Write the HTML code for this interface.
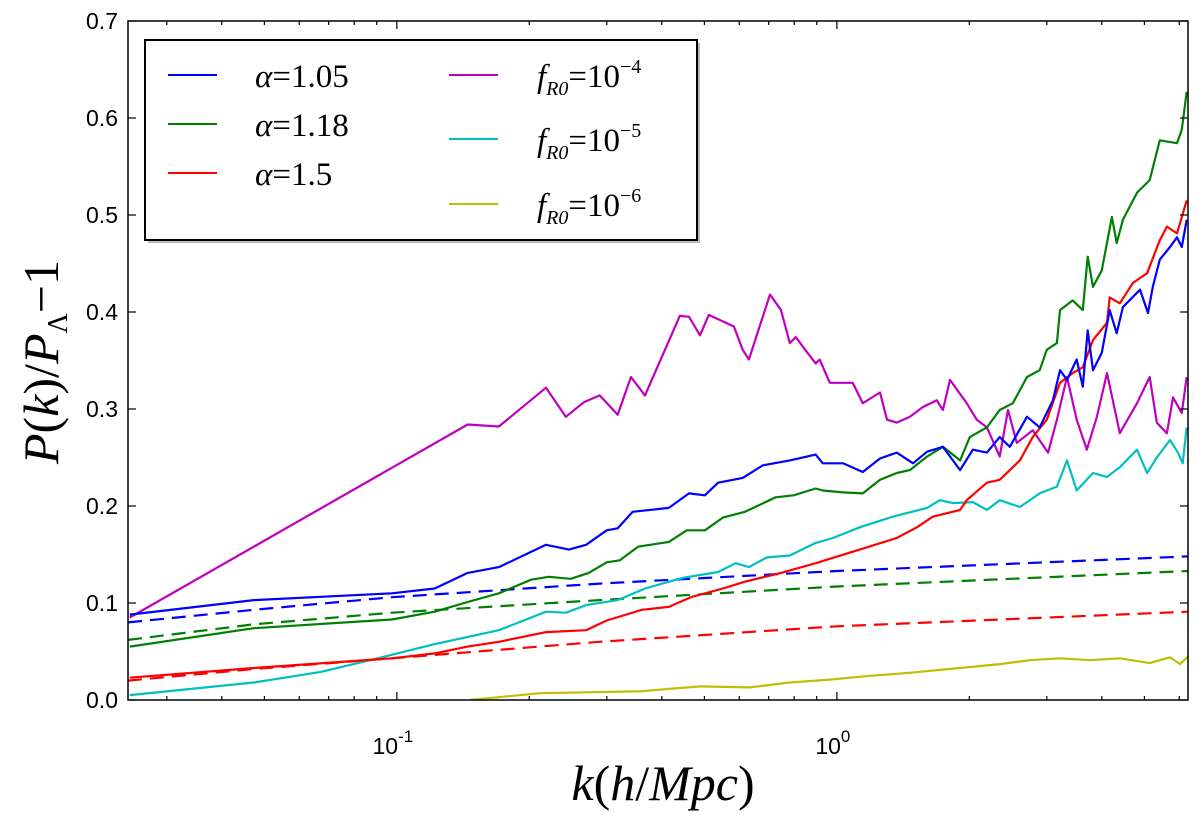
<!DOCTYPE html>
<html><head><meta charset="utf-8">
<style>
html,body{margin:0;padding:0;background:#fff;}
svg{display:block;}
text{font-family:"Liberation Serif",serif;}
.tick{font-family:"Liberation Sans",sans-serif;font-size:23px;fill:#000;}
</style></head>
<body>
<svg id="chart" width="1200" height="821" viewBox="0 0 1200 821">
<defs><clipPath id="plotclip"><rect x="128" y="21" width="1060" height="679"/></clipPath></defs>
<rect x="0" y="0" width="1200" height="821" fill="#fff"/>
<g id="series" clip-path="url(#plotclip)"></g>
<g id="axes"></g>
<rect x="128" y="21" width="1060" height="679" fill="none" stroke="#000" stroke-width="1.5"/>
<g>
<rect x="148" y="43" width="552" height="200" fill="#bbb"/>
<rect x="145" y="40" width="552" height="200" fill="#fff" stroke="#000" stroke-width="2"/>
<g><line x1="168" y1="75" x2="217" y2="75" stroke="#0000ff" stroke-width="2"/><text x="255" y="87" font-size="33" font-style="italic">α<tspan font-style="normal">=1.05</tspan></text></g>
<g><line x1="168" y1="124" x2="217" y2="124" stroke="#008000" stroke-width="2"/><text x="255" y="136" font-size="33" font-style="italic">α<tspan font-style="normal">=1.18</tspan></text></g>
<g><line x1="168" y1="173" x2="217" y2="173" stroke="#ff0000" stroke-width="2"/><text x="255" y="185" font-size="33" font-style="italic">α<tspan font-style="normal">=1.5</tspan></text></g>
<g><line x1="449" y1="75" x2="498" y2="75" stroke="#bf00bf" stroke-width="2"/><text x="537" y="87" font-size="33" font-style="italic">f<tspan font-size="20" dy="8">R0</tspan><tspan font-style="normal" dy="-8">=10</tspan><tspan font-style="normal" font-size="20" dy="-14">−4</tspan></text></g>
<g><line x1="449" y1="139" x2="498" y2="139" stroke="#00bfbf" stroke-width="2"/><text x="537" y="151" font-size="33" font-style="italic">f<tspan font-size="20" dy="8">R0</tspan><tspan font-style="normal" dy="-8">=10</tspan><tspan font-style="normal" font-size="20" dy="-14">−5</tspan></text></g>
<g><line x1="449" y1="204" x2="498" y2="204" stroke="#bfbf00" stroke-width="2"/><text x="537" y="216" font-size="33" font-style="italic">f<tspan font-size="20" dy="8">R0</tspan><tspan font-style="normal" dy="-8">=10</tspan><tspan font-style="normal" font-size="20" dy="-14">−6</tspan></text></g>
</g>
<text x="663" y="800" font-size="50" font-style="italic" text-anchor="middle">k<tspan font-style="normal">(</tspan>h<tspan font-style="normal">/</tspan>Mpc<tspan font-style="normal">)</tspan></text>
<text transform="translate(58,362) rotate(-90)" font-size="50" font-style="italic" text-anchor="middle">P<tspan font-style="normal">(</tspan>k<tspan font-style="normal">)/</tspan>P<tspan font-size="28" font-style="normal" dy="9">Λ</tspan><tspan font-style="normal" dy="-9">−1</tspan></text>
</svg>
<script>
// data: log10(k) and P(k)/P_Lambda - 1
const magLogK=[-1.607,-0.839,-0.768,-0.661,-0.616,-0.575,-0.539,-0.498,-0.468,-0.436,-0.357,-0.336,-0.311,-0.291,-0.234,-0.214,-0.200,-0.152,-0.127,-0.107,-0.093,-0.077,-0.048,-0.039,-0.016,0.036,0.059,0.098,0.114,0.136,0.166,0.195,0.227,0.241,0.257,0.273,0.295,0.318,0.341,0.370,0.389,0.409,0.445,0.480,0.500,0.523,0.545,0.568,0.591,0.614,0.643,0.682,0.711,0.727,0.750,0.764,0.784,0.795];
const magVal=[0.085,0.284,0.282,0.322,0.292,0.307,0.314,0.294,0.333,0.314,0.396,0.395,0.376,0.397,0.385,0.361,0.351,0.418,0.402,0.368,0.374,0.364,0.347,0.351,0.327,0.327,0.306,0.317,0.289,0.286,0.292,0.302,0.309,0.299,0.330,0.320,0.306,0.289,0.281,0.251,0.299,0.265,0.278,0.255,0.289,0.333,0.289,0.258,0.292,0.337,0.275,0.306,0.333,0.286,0.275,0.312,0.296,0.333];
const blueLogK=[-1.607,-1.325,-1.011,-0.914,-0.839,-0.768,-0.661,-0.609,-0.570,-0.523,-0.498,-0.464,-0.382,-0.336,-0.300,-0.270,-0.214,-0.168,-0.107,-0.048,-0.032,0.014,0.059,0.098,0.136,0.173,0.205,0.241,0.280,0.309,0.341,0.370,0.393,0.432,0.461,0.491,0.507,0.523,0.545,0.559,0.570,0.582,0.602,0.620,0.636,0.650,0.689,0.707,0.718,0.734,0.757,0.773,0.784,0.795];
const blueVal=[0.088,0.103,0.110,0.115,0.131,0.137,0.160,0.155,0.160,0.175,0.177,0.194,0.198,0.213,0.211,0.224,0.229,0.242,0.247,0.253,0.244,0.244,0.235,0.249,0.255,0.244,0.256,0.261,0.237,0.258,0.255,0.271,0.261,0.292,0.281,0.309,0.340,0.330,0.351,0.323,0.381,0.340,0.358,0.402,0.378,0.405,0.423,0.399,0.426,0.454,0.467,0.477,0.467,0.495];
const greenLogK=[-1.607,-1.325,-1.011,-0.914,-0.839,-0.768,-0.695,-0.655,-0.605,-0.564,-0.523,-0.493,-0.452,-0.382,-0.341,-0.300,-0.259,-0.209,-0.139,-0.098,-0.048,-0.032,0.014,0.059,0.098,0.136,0.166,0.205,0.241,0.280,0.302,0.341,0.370,0.400,0.432,0.461,0.477,0.500,0.507,0.536,0.559,0.570,0.582,0.602,0.625,0.636,0.650,0.682,0.711,0.734,0.773,0.784,0.795];
const greenVal=[0.055,0.074,0.083,0.091,0.101,0.110,0.124,0.127,0.125,0.131,0.142,0.144,0.158,0.163,0.175,0.175,0.188,0.194,0.209,0.211,0.218,0.216,0.214,0.213,0.227,0.234,0.237,0.251,0.261,0.247,0.271,0.281,0.299,0.306,0.333,0.340,0.361,0.368,0.402,0.412,0.402,0.457,0.426,0.443,0.498,0.471,0.495,0.523,0.536,0.577,0.574,0.588,0.627];
const redLogK=[-1.607,-1.325,-1.011,-0.914,-0.839,-0.768,-0.661,-0.570,-0.523,-0.443,-0.382,-0.332,-0.259,-0.209,-0.127,-0.048,0.052,0.136,0.182,0.218,0.280,0.295,0.341,0.370,0.416,0.445,0.477,0.507,0.536,0.559,0.582,0.614,0.620,0.643,0.673,0.705,0.734,0.750,0.773,0.795];
const redVal=[0.023,0.033,0.043,0.048,0.055,0.060,0.070,0.072,0.082,0.093,0.096,0.106,0.115,0.122,0.131,0.141,0.155,0.167,0.178,0.189,0.196,0.206,0.224,0.227,0.247,0.271,0.289,0.327,0.337,0.343,0.371,0.389,0.415,0.409,0.430,0.440,0.474,0.488,0.481,0.515];
const cyanLogK=[-1.607,-1.325,-1.173,-1.061,-0.920,-0.768,-0.661,-0.616,-0.568,-0.498,-0.436,-0.350,-0.270,-0.230,-0.200,-0.159,-0.107,-0.048,-0.009,0.052,0.127,0.205,0.234,0.264,0.309,0.341,0.370,0.416,0.461,0.500,0.523,0.545,0.582,0.614,0.643,0.682,0.705,0.727,0.757,0.775,0.786,0.795];
const cyanVal=[0.005,0.018,0.029,0.041,0.057,0.072,0.091,0.090,0.098,0.103,0.115,0.126,0.132,0.141,0.137,0.147,0.149,0.162,0.167,0.178,0.189,0.198,0.206,0.203,0.204,0.196,0.206,0.199,0.213,0.220,0.247,0.216,0.234,0.230,0.240,0.258,0.234,0.250,0.268,0.255,0.244,0.281];
const yelLogK=[-0.834,-0.675,-0.448,-0.311,-0.198,-0.107,-0.016,0.075,0.166,0.234,0.280,0.370,0.439,0.507,0.575,0.643,0.711,0.757,0.780,0.798];
const yelVal=[0.000,0.007,0.009,0.014,0.013,0.018,0.021,0.025,0.028,0.031,0.033,0.037,0.041,0.043,0.041,0.043,0.038,0.044,0.037,0.045];
const dashLogK=[-1.611,-1.325,-1.011,-0.539,0,0.798];
const blueDashVal=[0.080,0.093,0.106,0.120,0.133,0.148];
const greenDashVal=[0.062,0.078,0.090,0.103,0.117,0.133];
const redDashVal=[0.020,0.032,0.043,0.060,0.076,0.091];
const yTicks=[0,0.1,0.2,0.3,0.4,0.5,0.6,0.7];
const yTickLabels=["0.0","0.1","0.2","0.3","0.4","0.5","0.6","0.7"];
const xMajorExp=[-1,0];
const xMajorLabels=["-1","0"];

const X0=128,X1=1188,Y0=700,Y1=21;
const LMIN=-1.611,LMAX=0.798;
const xs=l=>X0+(l-LMIN)/(LMAX-LMIN)*(X1-X0);
const ys=v=>Y0-(v/0.7)*(Y0-Y1);
const NS="http://www.w3.org/2000/svg";
const sg=document.getElementById('series');
const ag=document.getElementById('axes');
function draw(lk,vals,color,name,dash){
  const p=document.createElementNS(NS,'path');
  p.setAttribute('d',lk.map((l,i)=>(i?'L':'M')+xs(l).toFixed(1)+' '+ys(vals[i]).toFixed(1)).join(' '));
  p.setAttribute('fill','none');p.setAttribute('stroke',color);p.setAttribute('stroke-width','2.2');
  p.setAttribute('stroke-linejoin','round');
  if(dash)p.setAttribute('stroke-dasharray','14 8');
  
  
  sg.appendChild(p);
}
draw(dashLogK,blueDashVal,'#0000ff','alpha-1.05-linear-dashed',true);
draw(dashLogK,greenDashVal,'#008000','alpha-1.18-linear-dashed',true);
draw(dashLogK,redDashVal,'#ff0000','alpha-1.5-linear-dashed',true);
draw(yelLogK,yelVal,'#bfbf00','fr0-1e-6-line',false);
draw(cyanLogK,cyanVal,'#00bfbf','fr0-1e-5-line',false);
draw(magLogK,magVal,'#bf00bf','fr0-1e-4-line',false);
draw(greenLogK,greenVal,'#008000','alpha-1.18-line',false);
draw(redLogK,redVal,'#ff0000','alpha-1.5-line',false);
draw(blueLogK,blueVal,'#0000ff','alpha-1.05-line',false);

function ln(x1,y1,x2,y2,name){
  const l=document.createElementNS(NS,'line');
  l.setAttribute('x1',x1);l.setAttribute('y1',y1);l.setAttribute('x2',x2);l.setAttribute('y2',y2);
  l.setAttribute('stroke','#000');l.setAttribute('stroke-width','1.2');
  
  
  ag.appendChild(l);
}
yTicks.forEach((v,i)=>{
  const y=ys(v);
  ln(X0,y,X0+8,y,'y-tick');ln(X1,y,X1-8,y,'y-tick-right');
  const t=document.createElementNS(NS,'text');
  t.setAttribute('x',X0-10);t.setAttribute('y',y+8);t.setAttribute('text-anchor','end');
  t.setAttribute('class','tick');t.textContent=yTickLabels[i];
  
  
  ag.appendChild(t);
});
for(let e=-2;e<=0;e++){
  for(let m=1;m<10;m++){
    const l=e+Math.log10(m);
    if(l<LMIN||l>LMAX)continue;
    const x=xs(l),len=m===1?8:4;
    ln(x,Y0,x,Y0-len,'x-tick');ln(x,Y1,x,Y1+len,'x-tick-top');
  }
}
xMajorExp.forEach((e,i)=>{
  const t=document.createElementNS(NS,'text');
  t.setAttribute('x',xs(e)-4);t.setAttribute('y',754);t.setAttribute('text-anchor','middle');
  t.setAttribute('class','tick');t.setAttribute('font-size','25');
  t.innerHTML='10<tspan font-size="17" dy="-12">'+xMajorLabels[i]+'</tspan>';
  
  
  ag.appendChild(t);
});
</script>
</body></html>
